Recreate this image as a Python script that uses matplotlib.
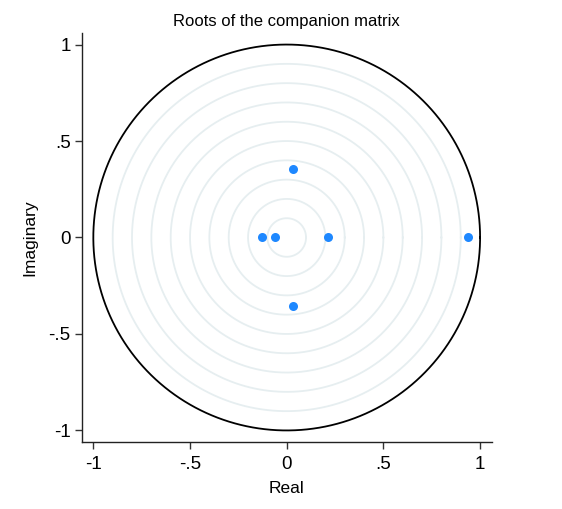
import numpy as np
import matplotlib
matplotlib.use("Agg")
import matplotlib.pyplot as plt

plt.rcParams['font.family'] = ['Liberation Sans Narrow', 'Liberation Sans', 'DejaVu Sans']

# Data: eigenvalues (real, imaginary)
real_parts = [0.935, 0.212, -0.062, -0.129, 0.031, 0.031]
imag_parts = [0.0, 0.0, 0.0, 0.0, 0.357, -0.357]
ref_radii = [0.1, 0.2, 0.3, 0.4, 0.5, 0.6, 0.7, 0.8, 0.9]
tick_vals = [-1, -0.5, 0, 0.5, 1]
tick_labels = ["-1", "-.5", "0", ".5", "1"]

fig = plt.figure(figsize=(5.62, 5.09), dpi=100)
ax = fig.add_axes([0.1454, 0.1316, 0.7295, 0.8036])

theta = np.linspace(0, 2 * np.pi, 400)
for r in ref_radii:
    ax.plot(r * np.cos(theta), r * np.sin(theta), color='#e6eef0', lw=1.3, zorder=1)
ax.plot(np.cos(theta), np.sin(theta), color='black', lw=1.3, zorder=2)
ax.plot(real_parts, imag_parts, 'o', color='#1e88ff', markersize=6.5, markeredgewidth=0, zorder=3)

ax.set_xlim(-1.06, 1.06)
ax.set_ylim(-1.06, 1.06)
ax.set_xticks(tick_vals)
ax.set_xticklabels(tick_labels)
ax.set_yticks(tick_vals)
ax.set_yticklabels(tick_labels)
for s in ['top', 'right']:
    ax.spines[s].set_visible(False)
for s in ['left', 'bottom']:
    ax.spines[s].set_linewidth(1.0)
    ax.spines[s].set_color('#222222')
ax.tick_params(axis='both', length=5, width=1, color='#333333', labelsize=13.5)
ax.tick_params(axis='x', pad=5)
ax.tick_params(axis='y', pad=3)
ax.set_xlabel("Real", fontsize=12.5, labelpad=6)
ax.set_ylabel("Imaginary", fontsize=12.5, labelpad=8)
ax.set_title("Roots of the companion matrix", fontsize=12, pad=5)

fig.savefig("out.png", dpi=100)
